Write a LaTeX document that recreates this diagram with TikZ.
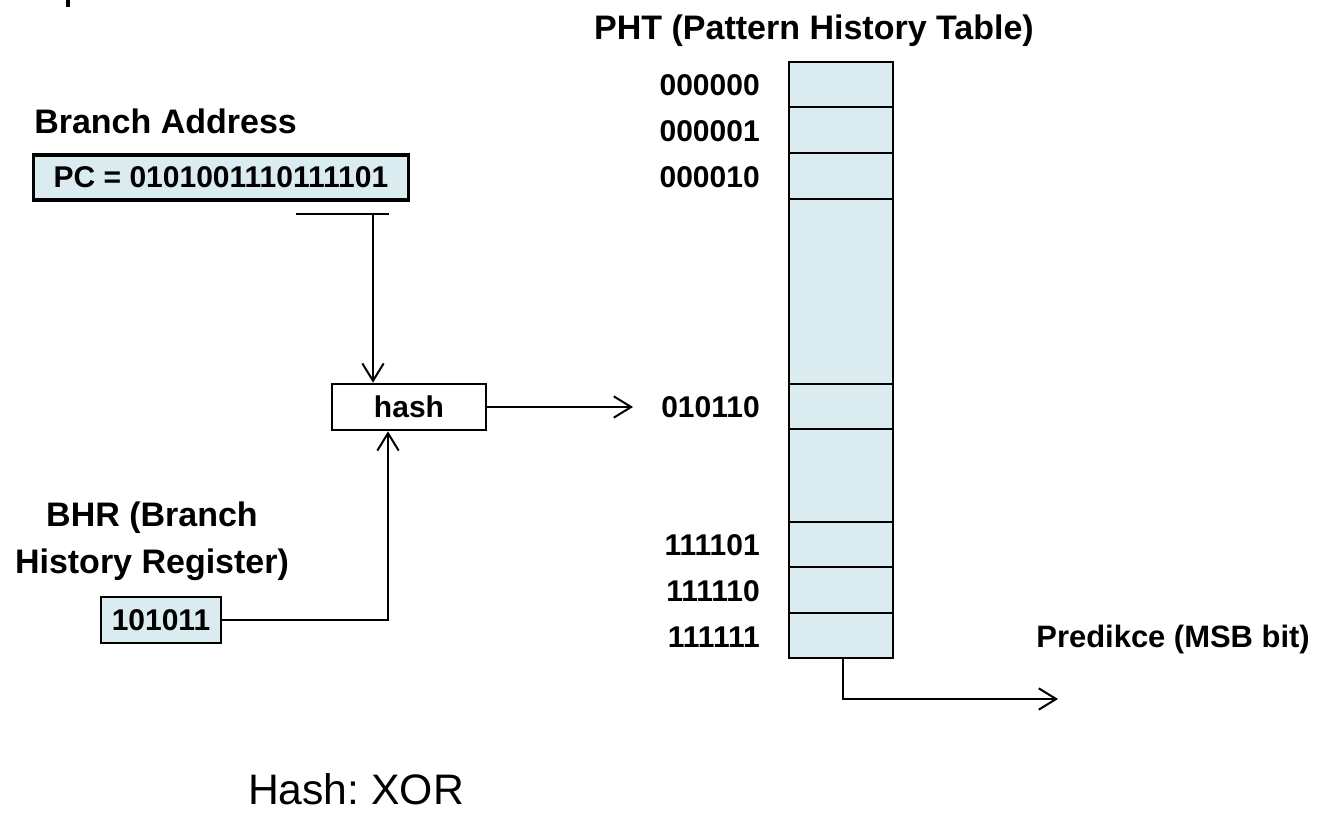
\documentclass[tikz,border=0pt]{standalone}
\usepackage{fontspec}
\setmainfont{Liberation Sans}
\usetikzlibrary{arrows.meta,calc}
\definecolor{cellfill}{RGB}{218,236,240}
\frenchspacing
\begin{document}
\begin{tikzpicture}[x=0.75pt,y=-0.75pt,
  lbl/.style={font=\fontsize{25.5}{35.25}\selectfont\bfseries, inner sep=0},
  idxlbl/.style={font=\fontsize{22.5}{30}\selectfont\bfseries, inner sep=0, anchor=east},
  regbox/.style={draw, line width=2pt, fill=cellfill, inner sep=0,
    font=\fontsize{22.5}{30}\selectfont\bfseries},
  wire/.style={line width=1.5pt},
  conn/.style={wire, -{Straight Barb[length=13pt,width=16pt]}}]
\useasboundingbox (0,0) rectangle (1321,813);

% clipped glyph stub at the top edge
\fill (66,0) rectangle (70,7);

% branch address register
\node[lbl, anchor=west] (balbl) at (34,121) {Branch Address};
\node[regbox, line width=2.4pt, minimum width=281.25pt, minimum height=33.75pt]
  (pc) at (221,177.5) {PC = 0101001110111101};
\coordinate (tapL) at (296,214);
\coordinate (tapR) at (389,214);
\coordinate (tap) at (373,214);
\draw[wire] (tapL) -- (tapR);

% hash unit
\node[draw, line width=2pt, fill=white, inner sep=0, minimum width=115.5pt,
  minimum height=34.5pt, font=\fontsize{22.5}{30}\selectfont\bfseries]
  (hash) at (409,407) {hash};
\draw[conn] (tap) -- (tap |- hash.north);

% branch history register
\node[lbl, align=center] (bhrlbl) at (152,541) {BHR (Branch\\History Register)};
\node[regbox, minimum width=90pt, minimum height=34.5pt] (bhr) at (161,620) {101011};
\coordinate (bhrturn) at (388,620);
\draw[conn] (bhr.east) -- (bhrturn) -- (bhrturn |- hash.south);

% pattern history table
\node[lbl] (phtlbl) at (814,31) {PHT (Pattern History Table)};
\foreach \n/\top/\bot in {0/62/107, 1/107/153, 2/153/199, 3/199/384, 4/384/429,
                          5/429/522, 6/522/567, 7/567/613, 8/613/658}{
  \path (789,\top) coordinate (tl) (893,\bot) coordinate (br);
  \draw[line width=1.8pt, fill=cellfill] (tl) rectangle (br);
  \coordinate (r\n) at ($(tl)!0.5!(br)$);
}
\node[idxlbl] (i0) at (760,85) {000000};
\node[idxlbl] (i1) at (760,131) {000001};
\node[idxlbl] (i2) at (760,177) {000010};
\node[idxlbl] (i4) at (760,407) {010110};
\node[idxlbl] (i6) at (760,545) {111101};
\node[idxlbl] (i7) at (760,591) {111110};
\node[idxlbl] (i8) at (760,637) {111111};

\coordinate (idx) at (633,407);
\draw[conn] (hash.east) -- (idx);

% prediction output
\coordinate (phtbot) at (843,658);
\coordinate (out) at (1058,699);
\draw[conn] (phtbot) |- (out);
\node[font=\fontsize{23.2}{30}\selectfont\bfseries, inner sep=0, anchor=east] (pred)
  at (1310,639) {Predikce (MSB bit)};

% note
\node[font=\fontsize{32}{38}\selectfont, inner sep=0] (note) at (356,789) {Hash: XOR};
\end{tikzpicture}
\end{document}
